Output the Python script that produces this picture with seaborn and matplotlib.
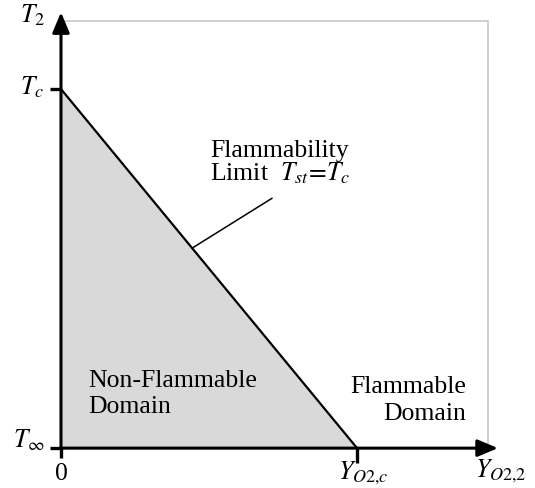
import numpy as np
import pandas as pd
import matplotlib
matplotlib.use("Agg")
import matplotlib.pyplot as plt
import seaborn as sns

# Flammability limit T_st = T_c in the (Y_O2,2 , T_2) plane, normalised so that
# Y_O2,c = 1 and (T - T_inf)/(T_c - T_inf) = 1 at the critical temperature.
limit_yo2 = [0.0, 1.0]
limit_temp = [1.0, 0.0]

# plotting window and arrow tips of the two axes
x_range = [-0.206, 1.601]
y_range = [-0.111, 1.248]
x_axis_end = 1.476
y_axis_end = 1.214
frame_right = 1.443
frame_top = 1.189

x_tick_labels = ["0", r"$Y_{O2{,}c}$"]
y_tick_labels = [r"$T_\infty$", r"$T_c$"]
x_axis_label = r"$Y_{O2{,}2}$"
y_axis_label = r"$T_2$"

sns.set_theme(style="white")
plt.rcParams["font.family"] = ["Liberation Serif", "DejaVu Serif"]
plt.rcParams["mathtext.fontset"] = "stix"
plt.rcParams["text.color"] = "black"

fig = plt.figure(figsize=(5.35, 4.88), dpi=100)
ax = fig.add_axes([0, 0, 1, 1])
ax.set_xlim(*x_range)
ax.set_ylim(*y_range)
ax.axis("off")

df = pd.DataFrame({"yo2": limit_yo2, "temp": limit_temp})

# non-flammable region below the limit line
ax.fill_between(df["yo2"], 0, df["temp"], color="#d9d9d9", lw=0, zorder=1)

# light frame of the domain
ax.plot([0, frame_right, frame_right], [frame_top, frame_top, 0],
        color="#cccccc", lw=1.3, zorder=1, solid_capstyle="butt")

# the limit line
sns.lineplot(data=df, x="yo2", y="temp", ax=ax, color="black", lw=1.6,
             zorder=3, sort=False)
ax.set_xlabel("")
ax.set_ylabel("")

# axes with arrow heads
arrow = dict(arrowstyle="-|>,head_length=0.62,head_width=0.26",
             mutation_scale=20, color="black", lw=2.2, shrinkA=0, shrinkB=0)
ax.annotate("", xy=(x_axis_end, 0), xytext=(0, 0), arrowprops=arrow, zorder=4)
ax.annotate("", xy=(0, y_axis_end), xytext=(0, 0), arrowprops=arrow, zorder=4)

# tick marks
tk = dict(color="black", lw=2.4, solid_capstyle="butt", zorder=4)
ax.plot([-0.037, 0], [limit_temp[0], limit_temp[0]], **tk)
ax.plot([-0.037, 0], [0, 0], **tk)
ax.plot([0, 0], [0, -0.028], **tk)
ax.plot([limit_yo2[1], limit_yo2[1]], [0, -0.04], **tk)

fs = 18.5
ax.text(-0.054, 1.187, y_axis_label, fontsize=fs, ha="right", va="baseline")
ax.text(-0.057, 0.986, y_tick_labels[1], fontsize=fs, ha="right", va="baseline")
ax.text(-0.054, 0.003, y_tick_labels[0], fontsize=fs, ha="right", va="baseline")
ax.text(0.0, -0.089, x_tick_labels[0], fontsize=fs, ha="center", va="baseline")
ax.text(0.936, -0.086, x_tick_labels[1], fontsize=fs, ha="left", va="baseline")
ax.text(1.399, -0.081, x_axis_label, fontsize=fs, ha="left", va="baseline")

# region and curve labels
ax.text(0.091, 0.170, "Non-Flammable", fontsize=fs, ha="left", va="baseline")
ax.text(0.091, 0.0975, "Domain", fontsize=fs, ha="left", va="baseline")
ax.text(1.368, 0.153, "Flammable", fontsize=fs, ha="right", va="baseline")
ax.text(1.368, 0.078, "Domain", fontsize=fs, ha="right", va="baseline")
ax.text(0.503, 0.810, "Flammability", fontsize=fs, ha="left", va="baseline")
ax.text(0.503, 0.746, r"Limit  $T_{st}\!=\!T_c$", fontsize=fs, ha="left",
        va="baseline")

# leader from the label to the limit line
x_leader = 0.443
y_leader = float(np.interp(x_leader, limit_yo2, limit_temp))
ax.annotate("", xy=(x_leader, y_leader), xytext=(0.713, 0.696),
            arrowprops=dict(arrowstyle="-", color="black", lw=1.1,
                            shrinkA=0, shrinkB=0), zorder=3)

fig.savefig("out.png", dpi=100)
